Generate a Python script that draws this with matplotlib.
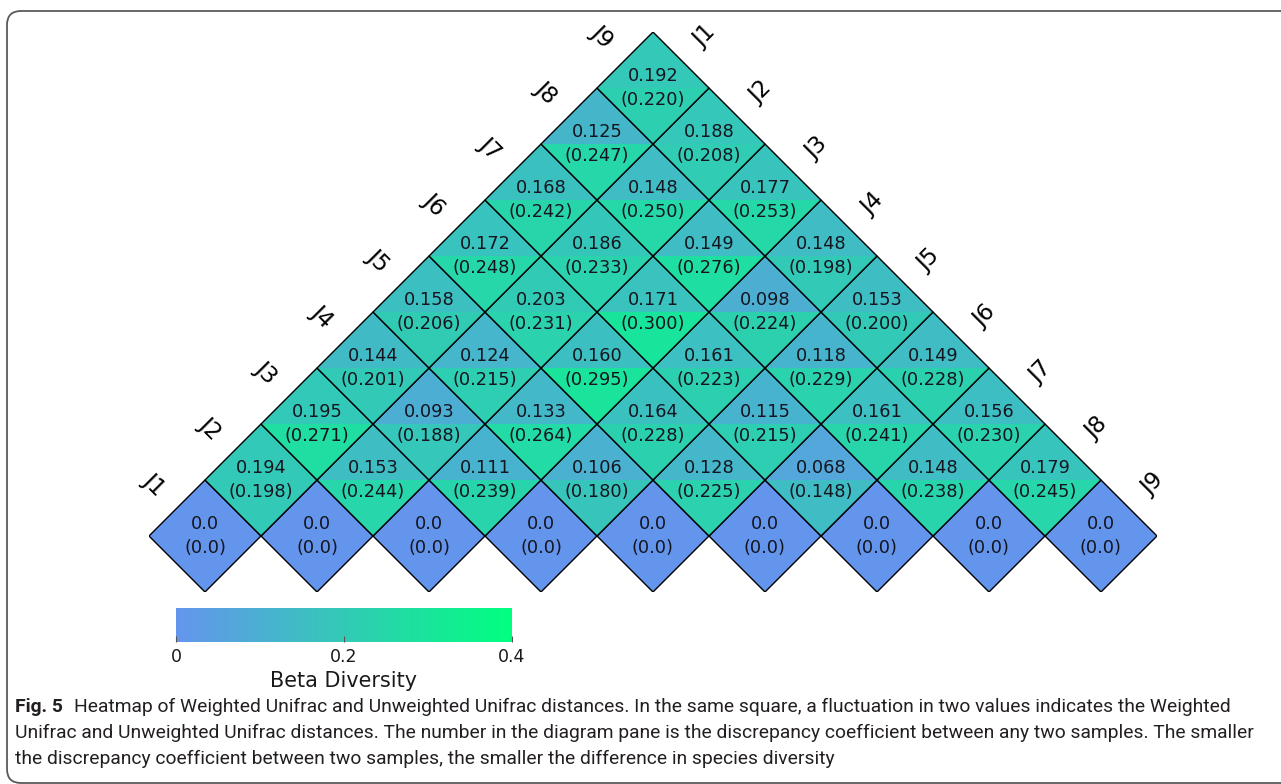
import matplotlib
matplotlib.use("Agg")
import matplotlib.pyplot as plt
from matplotlib.colors import LinearSegmentedColormap, Normalize
from matplotlib.patches import Polygon, FancyBboxPatch
from matplotlib.cm import ScalarMappable

samples = ["J1", "J2", "J3", "J4", "J5", "J6", "J7", "J8", "J9"]

# Weighted UniFrac distances, one list per diagonal offset (0 = same sample)
weighted = [
    [0.0, 0.0, 0.0, 0.0, 0.0, 0.0, 0.0, 0.0, 0.0],
    [0.194, 0.153, 0.111, 0.106, 0.128, 0.068, 0.148, 0.179],
    [0.195, 0.093, 0.133, 0.164, 0.115, 0.161, 0.156],
    [0.144, 0.124, 0.160, 0.161, 0.118, 0.149],
    [0.158, 0.203, 0.171, 0.098, 0.153],
    [0.172, 0.186, 0.149, 0.148],
    [0.168, 0.148, 0.177],
    [0.125, 0.188],
    [0.192],
]

# Unweighted UniFrac distances, same layout
unweighted = [
    [0.0, 0.0, 0.0, 0.0, 0.0, 0.0, 0.0, 0.0, 0.0],
    [0.198, 0.244, 0.239, 0.180, 0.225, 0.148, 0.238, 0.245],
    [0.271, 0.188, 0.264, 0.228, 0.215, 0.241, 0.230],
    [0.201, 0.215, 0.295, 0.223, 0.229, 0.228],
    [0.206, 0.231, 0.300, 0.224, 0.200],
    [0.248, 0.233, 0.276, 0.198],
    [0.242, 0.250, 0.253],
    [0.247, 0.208],
    [0.220],
]

cbar_ticks = [0, 0.2, 0.4]
cbar_ticklabels = ["0", "0.2", "0.4"]
cbar_title = "Beta Diversity"

caption_bold = "Fig. 5"
caption_lines = [
    "Heatmap of Weighted Unifrac and Unweighted Unifrac distances. In the same square, a fluctuation in two values indicates the Weighted",
    "Unifrac and Unweighted Unifrac distances. The number in the diagram pane is the discrepancy coefficient between any two samples. The smaller",
    "the discrepancy coefficient between two samples, the smaller the difference in species diversity",
]

W, H = 1281, 784
fig = plt.figure(figsize=(W / 100, H / 100), dpi=100)
fig.patch.set_facecolor("white")

cmap = LinearSegmentedColormap.from_list("beta", ["#6495ED", "#00FF7F"])
norm = Normalize(vmin=0.0, vmax=0.4)

# page-level layer: frame and caption in pixel units
bg = fig.add_axes([0, 0, 1, 1], zorder=0)
bg.set_xlim(0, W)
bg.set_ylim(H, 0)
bg.axis("off")
frame = FancyBboxPatch((7, 11), W + 40, 772, boxstyle="round,pad=0,rounding_size=14",
                       fill=False, edgecolor="#5a5a5a", linewidth=1.3)
bg.add_patch(frame)

# triangular heatmap
ax = fig.add_axes([149 / W, (H - 592) / H, 1008 / W, 560 / H], zorder=2)
ax.set_xlim(-0.5, 8.5)
ax.set_ylim(-0.5, 4.5)
ax.set_aspect("equal")
ax.axis("off")


def fmt(v):
    return "0.0" if v == 0 else f"{v:.3f}"


text_color = "#15151f"
for k, (wrow, urow) in enumerate(zip(weighted, unweighted)):
    for i, (w, u) in enumerate(zip(wrow, urow)):
        cx, cy = i + k / 2, k / 2
        ax.add_patch(Polygon([(cx - 0.5, cy), (cx, cy + 0.5), (cx + 0.5, cy)],
                             closed=True, facecolor=cmap(norm(w)), edgecolor="none"))
        ax.add_patch(Polygon([(cx - 0.5, cy), (cx, cy - 0.5), (cx + 0.5, cy)],
                             closed=True, facecolor=cmap(norm(u)), edgecolor="none"))
        ax.add_patch(Polygon([(cx - 0.5, cy), (cx, cy + 0.5), (cx + 0.5, cy), (cx, cy - 0.5)],
                             closed=True, fill=False, edgecolor="black", linewidth=1.0))
        ax.text(cx, cy + 0.11, fmt(w), ha="center", va="center",
                fontsize=12.8, color=text_color)
        ax.text(cx, cy - 0.11, f"({fmt(u)})", ha="center", va="center",
                fontsize=12.8, color=text_color)

n = len(samples)
off = 0.46
for k in range(n):
    # left edge: first cell of each diagonal row
    ax.text(k / 2 - off, k / 2 + off, samples[k], rotation=-45,
            ha="center", va="center", fontsize=16.5, color="black", clip_on=False)
    # right edge: last cell of each diagonal row
    ax.text((n - 1) - k / 2 + off, k / 2 + off, samples[n - 1 - k], rotation=45,
            ha="center", va="center", fontsize=16.5, color="black", clip_on=False)

# colour bar
cax = fig.add_axes([176 / W, (H - 642) / H, 336 / W, 34 / H], zorder=2)
cb = fig.colorbar(ScalarMappable(norm=norm, cmap=cmap), cax=cax,
                  orientation="horizontal", ticks=cbar_ticks)
cb.ax.set_xticklabels(cbar_ticklabels)
cb.outline.set_visible(False)
cb.ax.tick_params(axis="x", labelsize=12.5, length=4, width=0.8, direction="in",
                  color="#555555", labelcolor="#1a1a1a", pad=4)

renderer = fig.canvas.get_renderer()
cap_font = "Roboto"
cap_color = "#231f20"

# title under the colour bar, sized to its printed width
t = bg.text(344, 681, cbar_title, ha="center", va="center", fontsize=10,
            color="#1a1a1a")
tw = t.get_window_extent(renderer).width
t.set_fontsize(10 * 147 / tw)

# caption, sized so the second line spans the text block
probe = bg.text(15, 733, caption_lines[1], fontsize=10, family=cap_font)
pw = probe.get_window_extent(renderer).width
fs = 10 * 1238 / pw
probe.remove()

x0 = 15
ys = [707, 733, 759]
b = bg.text(x0, ys[0], caption_bold, fontsize=fs, family=cap_font, weight="bold",
            color=cap_color, va="center", ha="left")
bw = b.get_window_extent(renderer).width
bg.text(x0 + bw + 11, ys[0], caption_lines[0], fontsize=fs, family=cap_font,
        color=cap_color, va="center", ha="left")
for y, line in zip(ys[1:], caption_lines[1:]):
    bg.text(x0, y, line, fontsize=fs, family=cap_font, color=cap_color,
            va="center", ha="left")

fig.savefig("out.png", dpi=100, facecolor="white")
